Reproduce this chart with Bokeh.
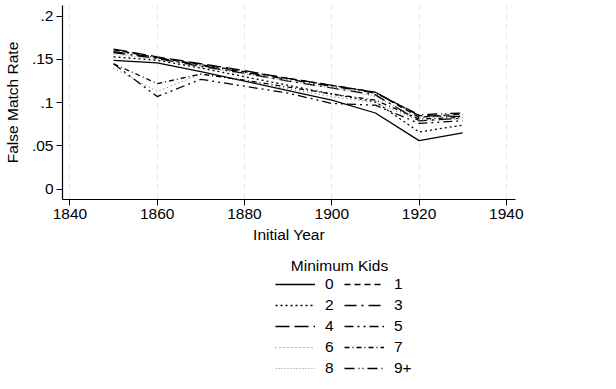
from bokeh.plotting import figure
from bokeh.layouts import column
from bokeh.models import Legend, LegendItem, FixedTicker, Range1d, Label
from bokeh.embed import file_html
from bokeh.resources import INLINE

# Initial census year of each linked sample
years = [1850, 1860, 1870, 1880, 1890, 1900, 1910, 1920, 1930]

# False match rate by minimum number of kids required
rate_0 = [0.149, 0.146, 0.136, 0.125, 0.114, 0.103, 0.088, 0.056, 0.065]
rate_1 = [0.161, 0.152, 0.144, 0.136, 0.128, 0.120, 0.112, 0.083, 0.087]
rate_2 = [0.153, 0.149, 0.140, 0.130, 0.120, 0.110, 0.101, 0.066, 0.074]
rate_3 = [0.158, 0.151, 0.142, 0.134, 0.125, 0.117, 0.109, 0.079, 0.082]
rate_4 = [0.162, 0.153, 0.145, 0.137, 0.128, 0.120, 0.112, 0.085, 0.084]
rate_5 = [0.145, 0.107, 0.127, 0.119, 0.111, 0.099, 0.097, 0.076, 0.079]
rate_6 = [0.140, 0.113, 0.133, 0.125, 0.116, 0.107, 0.100, 0.079, 0.081]
rate_7 = [0.145, 0.122, 0.133, 0.126, 0.118, 0.110, 0.103, 0.081, 0.083]
rate_8 = [0.156, 0.150, 0.141, 0.133, 0.125, 0.117, 0.107, 0.082, 0.086]
rate_9 = [0.159, 0.152, 0.143, 0.135, 0.127, 0.119, 0.111, 0.086, 0.088]

kids_labels = ["0", "1", "2", "3", "4", "5", "6", "7", "8", "9+"]
series = [rate_0, rate_1, rate_2, rate_3, rate_4, rate_5, rate_6, rate_7, rate_8, rate_9]

x_ticks = [1840, 1860, 1880, 1900, 1920, 1940]
y_ticks = [0, 0.05, 0.10, 0.15, 0.20]
y_tick_labels = ["0", ".05", ".1", ".15", ".2"]

# Stata-like line patterns, one per series
styles = [
    dict(line_dash="solid", line_color="black", line_width=1.3),
    dict(line_dash="6 4", line_color="black", line_width=1.3),
    dict(line_dash="2 3", line_color="black", line_width=1.3),
    dict(line_dash="12 5 2 5", line_color="black", line_width=1.3),
    dict(line_dash="14 5", line_color="black", line_width=1.3),
    dict(line_dash="9 4 2 4 2 4", line_color="black", line_width=1.3),
    dict(line_dash="1 3", line_color="#666666", line_width=1.0),
    dict(line_dash="5 3 1 3", line_color="black", line_width=1.3),
    dict(line_dash="1 2", line_color="#888888", line_width=1.0),
    dict(line_dash="10 4 1 3 1 4", line_color="black", line_width=1.3),
]

FONT = "Liberation Sans"
FS = "15.5px"

# ---- main chart ----
p = figure(
    width=616, height=248,
    output_backend="svg", toolbar_location=None,
    x_range=Range1d(1838.3, 1942.1), y_range=Range1d(-0.0121, 0.2124),
    min_border_left=62, min_border_right=101,
    min_border_top=5, min_border_bottom=49,
)
p.outline_line_color = None
p.background_fill_color = "white"
p.border_fill_color = "white"

p.xaxis.ticker = FixedTicker(ticks=x_ticks)
p.yaxis.ticker = FixedTicker(ticks=y_ticks)
p.yaxis.major_label_overrides = {t: s for t, s in zip(y_ticks, y_tick_labels)}
p.xaxis.axis_label = "Initial Year"
p.yaxis.axis_label = "False Match Rate"
for ax in (p.xaxis[0], p.yaxis[0]):
    ax.axis_line_color = "black"
    ax.axis_line_width = 1.2
    ax.major_tick_line_color = "black"
    ax.major_tick_out = 6
    ax.major_tick_in = 0
    ax.minor_tick_line_color = None
    ax.major_label_text_font = FONT
    ax.major_label_text_font_size = FS
    ax.major_label_text_color = "black"
    ax.axis_label_text_font = FONT
    ax.axis_label_text_font_size = FS
    ax.axis_label_text_font_style = "normal"
    ax.axis_label_text_color = "black"
    ax.major_label_standoff = 3
p.xaxis.axis_label_standoff = 4
p.yaxis.axis_label_standoff = 8
p.yaxis.major_label_orientation = "horizontal"

# vertical dashed grid only
p.xgrid.grid_line_color = "#e6e6e6"
p.xgrid.grid_line_dash = "6 4"
p.xgrid.grid_line_width = 1
p.ygrid.grid_line_color = None

for vals, st in zip(series, styles):
    p.line(years, vals, **st)

# ---- legend panel (its ranges keep the proxy lines out of view) ----
lg = figure(
    width=616, height=141,
    output_backend="svg", toolbar_location=None,
    x_axis_location=None, y_axis_location=None,
    x_range=Range1d(0, 1), y_range=Range1d(0, 1),
    min_border=0,
)
lg.outline_line_color = None
lg.grid.grid_line_color = None
lg.border_fill_color = "white"

items = []
for lab, vals, st in zip(kids_labels, series, styles):
    r = lg.line(years, vals, **st)
    items.append(LegendItem(label=lab, renderers=[r]))

legend = Legend(
    items=items, orientation="horizontal", ncols=2,
    location=(213, 11),
    glyph_width=40, glyph_height=20, label_standoff=10,
    label_width=18, label_height=20, spacing=1,
    padding=0, margin=0,
    border_line_color=None, background_fill_alpha=0,
    label_text_font=FONT, label_text_font_size=FS,
    label_text_color="black",
)
lg.add_layout(legend, "center")

lg.add_layout(Label(
    x=277, y=124, x_units="screen", y_units="screen",
    text="Minimum Kids", text_align="center", text_baseline="middle",
    text_font=FONT, text_font_size=FS, text_color="black",
))

open("out.html", "w").write(file_html(column(p, lg, spacing=0), INLINE))
